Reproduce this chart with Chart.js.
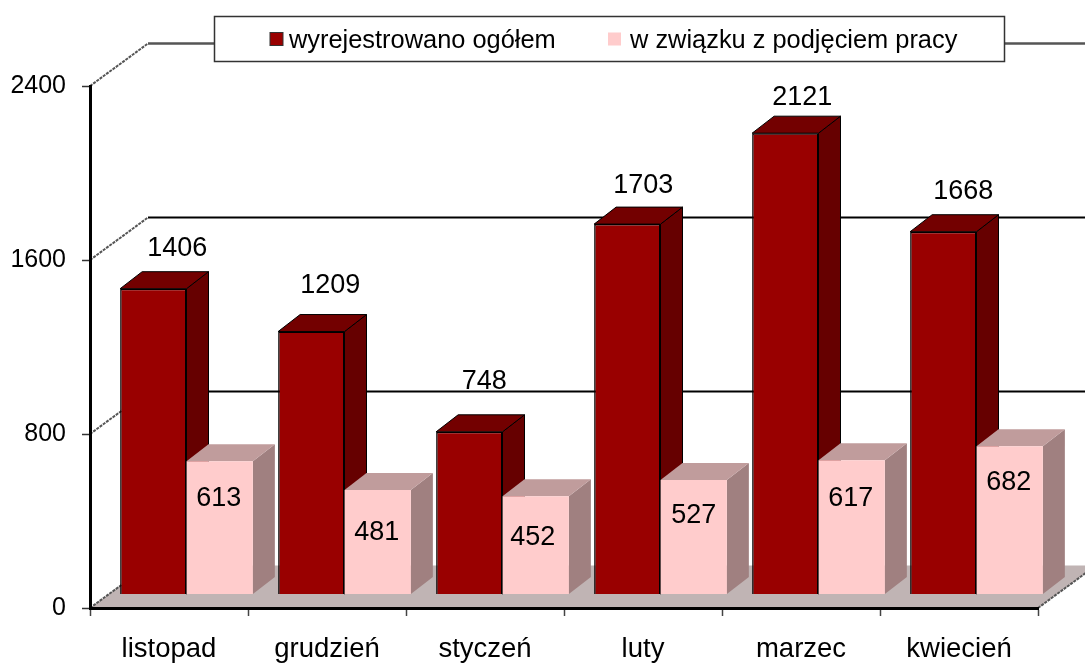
<!DOCTYPE html>
<html lang="pl">
<head>
<meta charset="utf-8">
<title>wyrejestrowani</title>
<script src="https://cdn.jsdelivr.net/npm/chart.js@4/dist/chart.umd.min.js"></script>
<style>
  html, body { margin: 0; padding: 0; background: #fff; }
  canvas { display: block; }
</style>
</head>
<body>
<canvas id="chart" width="1085" height="666"></canvas>
<script>
// Chart data
const categories = ['listopad', 'grudzień', 'styczeń', 'luty', 'marzec', 'kwiecień'];
const totalOut = [1406, 1209, 748, 1703, 2121, 1668];
const toWork = [613, 481, 452, 527, 617, 682];
const seriesNames = ['wyrejestrowano ogółem', 'w związku z podjęciem pracy'];
const yMax = 2400;
const yStep = 800;

// Hand placed label offsets from the top centre of each front face
const totalLabelOffset = [[24, -40], [19, -46], [15, -50], [16, -39], [17, -36], [20, -40]];
const workLabelOffset = [[-1, 37], [-1, 43], [-3, 41], [0, 36], [-1, 38], [-1, 36]];

const FONT = '"Liberation Sans", Arial, sans-serif';
const wall = { dx: 58, dy: -42.5 };    // floor/wall depth
const shift = { dx: 17.5, dy: -13.5 }; // where the bars stand on the floor
const bar3d = { dx: 22, dy: -17 };     // depth of one bar

const faces = [
  { front: '#990000', top: '#730000', side: '#660000', line: '#000' },
  { front: '#FFCCCC', top: '#C09C9C', side: '#A08080', line: null }
];

function poly(ctx, pts, fill, line) {
  ctx.beginPath();
  pts.forEach((p, i) => i ? ctx.lineTo(p[0], p[1]) : ctx.moveTo(p[0], p[1]));
  ctx.closePath();
  ctx.fillStyle = fill;
  ctx.fill();
  if (line) {
    ctx.strokeStyle = line;
    ctx.lineWidth = 1;
    ctx.stroke();
  }
}

// Floor and back wall, behind the axes
const backdrop = {
  id: 'backdrop',
  beforeDraw(chart) {
    const { ctx, chartArea: a, scales: { y } } = chart;
    ctx.save();
    ctx.fillStyle = '#fff';
    ctx.fillRect(0, 0, chart.width, chart.height);
    const y0 = y.getPixelForValue(0);
    poly(ctx, [[a.left, y0], [a.left + wall.dx, y0 + wall.dy],
      [a.right + wall.dx, y0 + wall.dy], [a.right, y0]], '#C0B4B4');

    for (let v = 0; v <= yMax; v += yStep) {
      const py = y.getPixelForValue(v);
      ctx.setLineDash([3, 1]);
      ctx.strokeStyle = '#555';
      ctx.lineWidth = 2;
      ctx.beginPath();
      ctx.moveTo(a.left, py);
      ctx.lineTo(a.left + wall.dx, py + wall.dy);
      if (v === 0) {
        ctx.moveTo(a.right, py);
        ctx.lineTo(a.right + wall.dx, py + wall.dy);
      }
      ctx.stroke();
      ctx.setLineDash([]);
      if (v > 0) {
        ctx.strokeStyle = v === yMax ? '#555' : '#000';
        ctx.lineWidth = v === yMax ? 2.5 : 2;
        ctx.beginPath();
        ctx.moveTo(a.left + wall.dx, py + wall.dy);
        ctx.lineTo(a.right + wall.dx, py + wall.dy);
        ctx.stroke();
      }
    }
    ctx.restore();
  }
};

// Top and side faces, then the shift for the front faces
const bars3d = {
  id: 'bars3d',
  beforeDatasetsDraw(chart) {
    const { ctx } = chart;
    ctx.save();
    ctx.translate(shift.dx, shift.dy);
    [0, 1].forEach(d => {
      const c = faces[d];
      chart.getDatasetMeta(d).data.forEach(bar => {
        const l = bar.x - bar.width / 2, r = bar.x + bar.width / 2;
        const t = bar.y, b = bar.base;
        poly(ctx, [[r, t], [r + bar3d.dx, t + bar3d.dy], [r + bar3d.dx, b + bar3d.dy], [r, b]], c.side, c.line);
        poly(ctx, [[l, t], [l + bar3d.dx, t + bar3d.dy], [r + bar3d.dx, t + bar3d.dy], [r, t]], c.top, c.line);
      });
    });
    ctx.restore();
  },
  beforeDatasetDraw(chart) {
    chart.ctx.save();
    chart.ctx.translate(shift.dx, shift.dy);
  },
  afterDatasetDraw(chart) {
    chart.ctx.restore();
  },
  afterDatasetsDraw(chart) {
    const { ctx } = chart;
    ctx.save();
    ctx.font = '27px ' + FONT;
    ctx.fillStyle = '#000';
    ctx.textAlign = 'center';
    ctx.textBaseline = 'middle';
    [totalOut, toWork].forEach((vals, d) => {
      const off = d === 0 ? totalLabelOffset : workLabelOffset;
      chart.getDatasetMeta(d).data.forEach((bar, i) => {
        ctx.fillText(String(vals[i]), bar.x + shift.dx + off[i][0], bar.y + shift.dy + off[i][1]);
      });
    });
    ctx.restore();
  }
};

// Legend box sits across the top wall line
const legendBox = {
  id: 'legendBox',
  afterDraw(chart) {
    const { ctx } = chart;
    ctx.save();
    ctx.fillStyle = '#fff';
    ctx.fillRect(214.5, 16.5, 790, 45);
    ctx.strokeStyle = '#333';
    ctx.lineWidth = 1.5;
    ctx.strokeRect(214.5, 16.5, 790, 45);

    const swatchX = [270, 608];
    const textX = [289, 630];
    ctx.font = '25.4px ' + FONT;
    ctx.textBaseline = 'middle';
    seriesNames.forEach((name, i) => {
      ctx.fillStyle = faces[i].front;
      ctx.fillRect(swatchX[i], 32.5, 13, 13);
      if (faces[i].line) {
        ctx.strokeStyle = '#333';
        ctx.lineWidth = 1;
        ctx.strokeRect(swatchX[i], 32.5, 13, 13);
      }
      ctx.fillStyle = '#000';
      ctx.fillText(name, textX[i], 41);
    });
    ctx.restore();
  }
};

new Chart(document.getElementById('chart'), {
  type: 'bar',
  data: {
    labels: categories,
    datasets: [
      { label: seriesNames[0], data: totalOut, backgroundColor: faces[0].front,
        borderColor: '#000', borderWidth: 1.5, clip: false },
      { label: seriesNames[1], data: toWork, backgroundColor: faces[1].front,
        borderWidth: 0, clip: false }
    ]
  },
  plugins: [backdrop, bars3d, legendBox],
  options: {
    responsive: false,
    animation: false,
    layout: { padding: { top: 86, right: 47, left: 0, bottom: 0 } },
    datasets: { bar: { categoryPercentage: 0.84, barPercentage: 1 } },
    plugins: { legend: { display: false }, tooltip: { enabled: false } },
    scales: {
      x: {
        afterFit(scale) { scale.height = 58; },
        grid: { drawOnChartArea: false, offset: true, tickLength: 8, tickColor: '#444', tickWidth: 1.5 },
        border: { color: '#000', width: 3 },
        ticks: { color: '#000', font: { family: FONT, size: 27.5 }, padding: 17, maxRotation: 0, autoSkip: false }
      },
      y: {
        min: 0,
        max: yMax,
        afterFit(scale) { scale.width = 90; },
        grid: { drawOnChartArea: false, tickLength: 8, tickColor: '#333', tickWidth: 1.5 },
        border: { color: '#000', width: 3 },
        ticks: {
          color: '#000',
          stepSize: yStep,
          font: { family: FONT, size: 25 },
          padding: 16,
          callback: v => String(v)
        }
      }
    }
  }
});
</script>
</body>
</html>
